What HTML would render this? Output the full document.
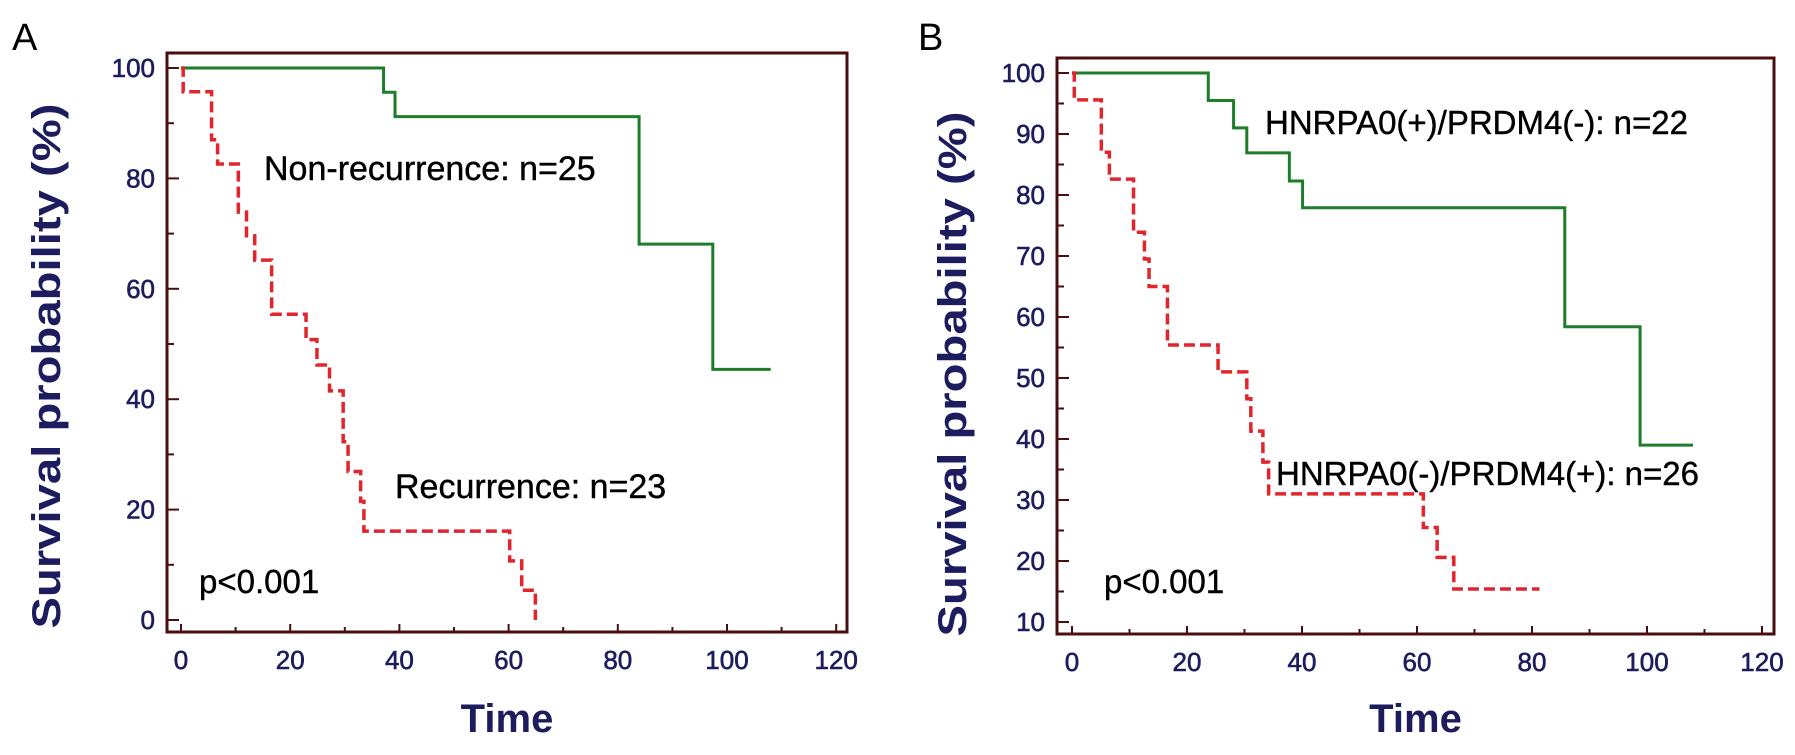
<!DOCTYPE html>
<html><head><meta charset="utf-8"><style>
html,body{margin:0;padding:0;background:#fff;}
svg{display:block;}
text{font-family:"Liberation Sans",Arial,sans-serif;}
</style></head><body>
<svg id="fig" width="1795" height="755" viewBox="0 0 1795 755" xmlns="http://www.w3.org/2000/svg"></svg>
<script>
// Panel A data (time, survival % after step)
const aGreenTimes = [0, 37.1, 39.2, 83.9, 97.4];
const aGreenSurv  = [100, 95.6, 91.2, 68.1, 45.4];
const aGreenEnd = 108;
const aRedTimes = [0, 0.4, 5.6, 6.7, 10.5, 12, 13.5, 16.6, 22.9, 24.9, 27.2, 29.7, 30.6, 32.9, 33.5, 60.2, 62.4, 64.9];
const aRedSurv  = [100, 95.7, 87, 82.6, 73.9, 69.6, 65.2, 55.4, 50.8, 46.2, 41.5, 32.3, 26.9, 21.5, 16.1, 10.7, 5.4, 0];
const aRedEnd = 64.9;
const aXTicks = [0, 20, 40, 60, 80, 100, 120];
const aYTicks = [0, 20, 40, 60, 80, 100];
// Panel B data
const bGreenTimes = [0, 23.7, 28.1, 30.4, 37.8, 40.1, 85.7, 98.8];
const bGreenSurv  = [100, 95.5, 91, 86.9, 82.3, 77.9, 58.4, 39];
const bGreenEnd = 108;
const bRedTimes = [0, 0.4, 5.1, 6.5, 10.7, 12.6, 13.4, 16.6, 25.4, 30.4, 31.1, 33.2, 34.2, 61.1, 63.5, 66.4];
const bRedSurv  = [100, 95.6, 87, 82.6, 73.9, 69.5, 65, 55.4, 51, 46.6, 41.3, 36.2, 31, 25.5, 20.6, 15.4];
const bRedEnd = 81.3;
const bXTicks = [0, 20, 40, 60, 80, 100, 120];
const bYTicks = [10, 20, 30, 40, 50, 60, 70, 80, 90, 100];

const NS = "http://www.w3.org/2000/svg";
const svg = document.getElementById('fig');
function mk(tag, attrs, parent, txt){
  const e = document.createElementNS(NS, tag);
  for (const k in attrs) e.setAttribute(k, attrs[k]);
  if (txt !== undefined) e.textContent = txt;
  (parent || svg).appendChild(e);
  return e;
}
const NAVY = "#1c1c5e", FRAME = "#4a0e0e";

function stepPath(times, surv, end, sx, sy){
  let d = "M" + sx(times[0]) + "," + sy(surv[0]);
  for (let i = 1; i < times.length; i++){
    d += " L" + sx(times[i]) + "," + sy(surv[i-1]) + " L" + sx(times[i]) + "," + sy(surv[i]);
  }
  d += " L" + sx(end) + "," + sy(surv[surv.length-1]);
  return d;
}

function panel(p){
  const g = mk('g', {});
  
  
  const sx = v => p.x0 + v * p.kx;
  const sy = v => p.yTop + (p.yMax - v) * p.ky;
  const fr = mk('rect', {x:p.fl, y:p.ft, width:p.fr-p.fl, height:p.fb-p.ft, fill:'none', stroke:FRAME, 'stroke-width':3}, g);
  
  
  for (let i = 0; i < p.xTicks.length; i++){
    const v = p.xTicks[i];
    mk('line', {x1:sx(v), x2:sx(v), y1:p.fb, y2:p.fb-8, stroke:FRAME, 'stroke-width':2}, g);
    if (i < p.xTicks.length-1){
      const m = (v + p.xTicks[i+1]) / 2;
      mk('line', {x1:sx(m), x2:sx(m), y1:p.fb, y2:p.fb-5, stroke:FRAME, 'stroke-width':2}, g);
    }
    const t = mk('text', {x:sx(v), y:p.fb+37, 'text-anchor':'middle', 'font-size':26, fill:NAVY, stroke:NAVY, 'stroke-width':0.6}, g, String(v));
    
    
  }
  for (let i = 0; i < p.yTicks.length; i++){
    const v = p.yTicks[i];
    mk('line', {x1:p.fl, x2:p.fl+12, y1:sy(v), y2:sy(v), stroke:FRAME, 'stroke-width':2}, g);
    if (i < p.yTicks.length-1){
      const m = (v + p.yTicks[i+1]) / 2;
      mk('line', {x1:p.fl, x2:p.fl+7, y1:sy(m), y2:sy(m), stroke:FRAME, 'stroke-width':2}, g);
    }
    const t = mk('text', {x:p.fl-12, y:sy(v)+9, 'text-anchor':'end', 'font-size':26, fill:NAVY, stroke:NAVY, 'stroke-width':0.6}, g, String(v));
    
    
  }
  const gr = mk('path', {d:stepPath(p.gT, p.gS, p.gEnd, sx, sy), fill:'none', stroke:'#1e7d2a', 'stroke-width':3}, g);
  
  
  const rd = mk('path', {d:stepPath(p.rT, p.rS, p.rEnd, sx, sy), fill:'none', stroke:'#e0262c', 'stroke-width':3.5, 'stroke-dasharray':'11,5'}, g);
  
  
  for (const a of p.notes){
    const t = mk('text', {x:a[0], y:a[1], 'font-size':a[3], fill:'#000', stroke:'#000', 'stroke-width':0.4}, g, a[2]);
    
    
  }
  const xt = mk('text', {x:(p.fl+p.fr)/2, y:732, 'text-anchor':'middle', 'font-size':40, 'font-weight':'bold', fill:NAVY}, g, 'Time');
  
  
  const yt = mk('text', {x:0, y:0, transform:'translate(' + p.ytx + ',' + p.yty + ') rotate(-90)', 'text-anchor':'middle', 'font-size':40, 'font-weight':'bold', fill:NAVY, textLength:525, lengthAdjust:'spacingAndGlyphs'}, g, 'Survival probability (%)');
  
  
  const pl = mk('text', {x:p.lx, y:50, 'font-size':38, fill:'#000'}, g, p.letter);
  
  
}

panel({name:'panel-a', letter:'A', lx:12, fl:167, ft:53, fr:847, fb:632,
  x0:181, kx:5.46, yTop:68, yMax:100, ky:5.52,
  xTicks:aXTicks, yTicks:aYTicks,
  gT:aGreenTimes, gS:aGreenSurv, gEnd:aGreenEnd,
  rT:aRedTimes, rS:aRedSurv, rEnd:aRedEnd,
  ytx:60, yty:366,
  notes:[[264,180,'Non-recurrence: n=25',34,'label-non-recurrence'],
         [395,498,'Recurrence: n=23',34,'label-recurrence'],
         [199,593,'p<0.001',33,'p-value']]});

panel({name:'panel-b', letter:'B', lx:918, fl:1057, ft:58, fr:1774, fb:634,
  x0:1072, kx:5.75, yTop:73, yMax:100, ky:6.1,
  xTicks:bXTicks, yTicks:bYTicks,
  gT:bGreenTimes, gS:bGreenSurv, gEnd:bGreenEnd,
  rT:bRedTimes, rS:bRedSurv, rEnd:bRedEnd,
  ytx:966, yty:374,
  notes:[[1265,134,'HNRPA0(+)/PRDM4(-): n=22',33,'label-hnrpa0-positive'],
         [1276,485,'HNRPA0(-)/PRDM4(+): n=26',33,'label-hnrpa0-negative'],
         [1104,593,'p<0.001',33,'p-value']]});
</script>
</body></html>
